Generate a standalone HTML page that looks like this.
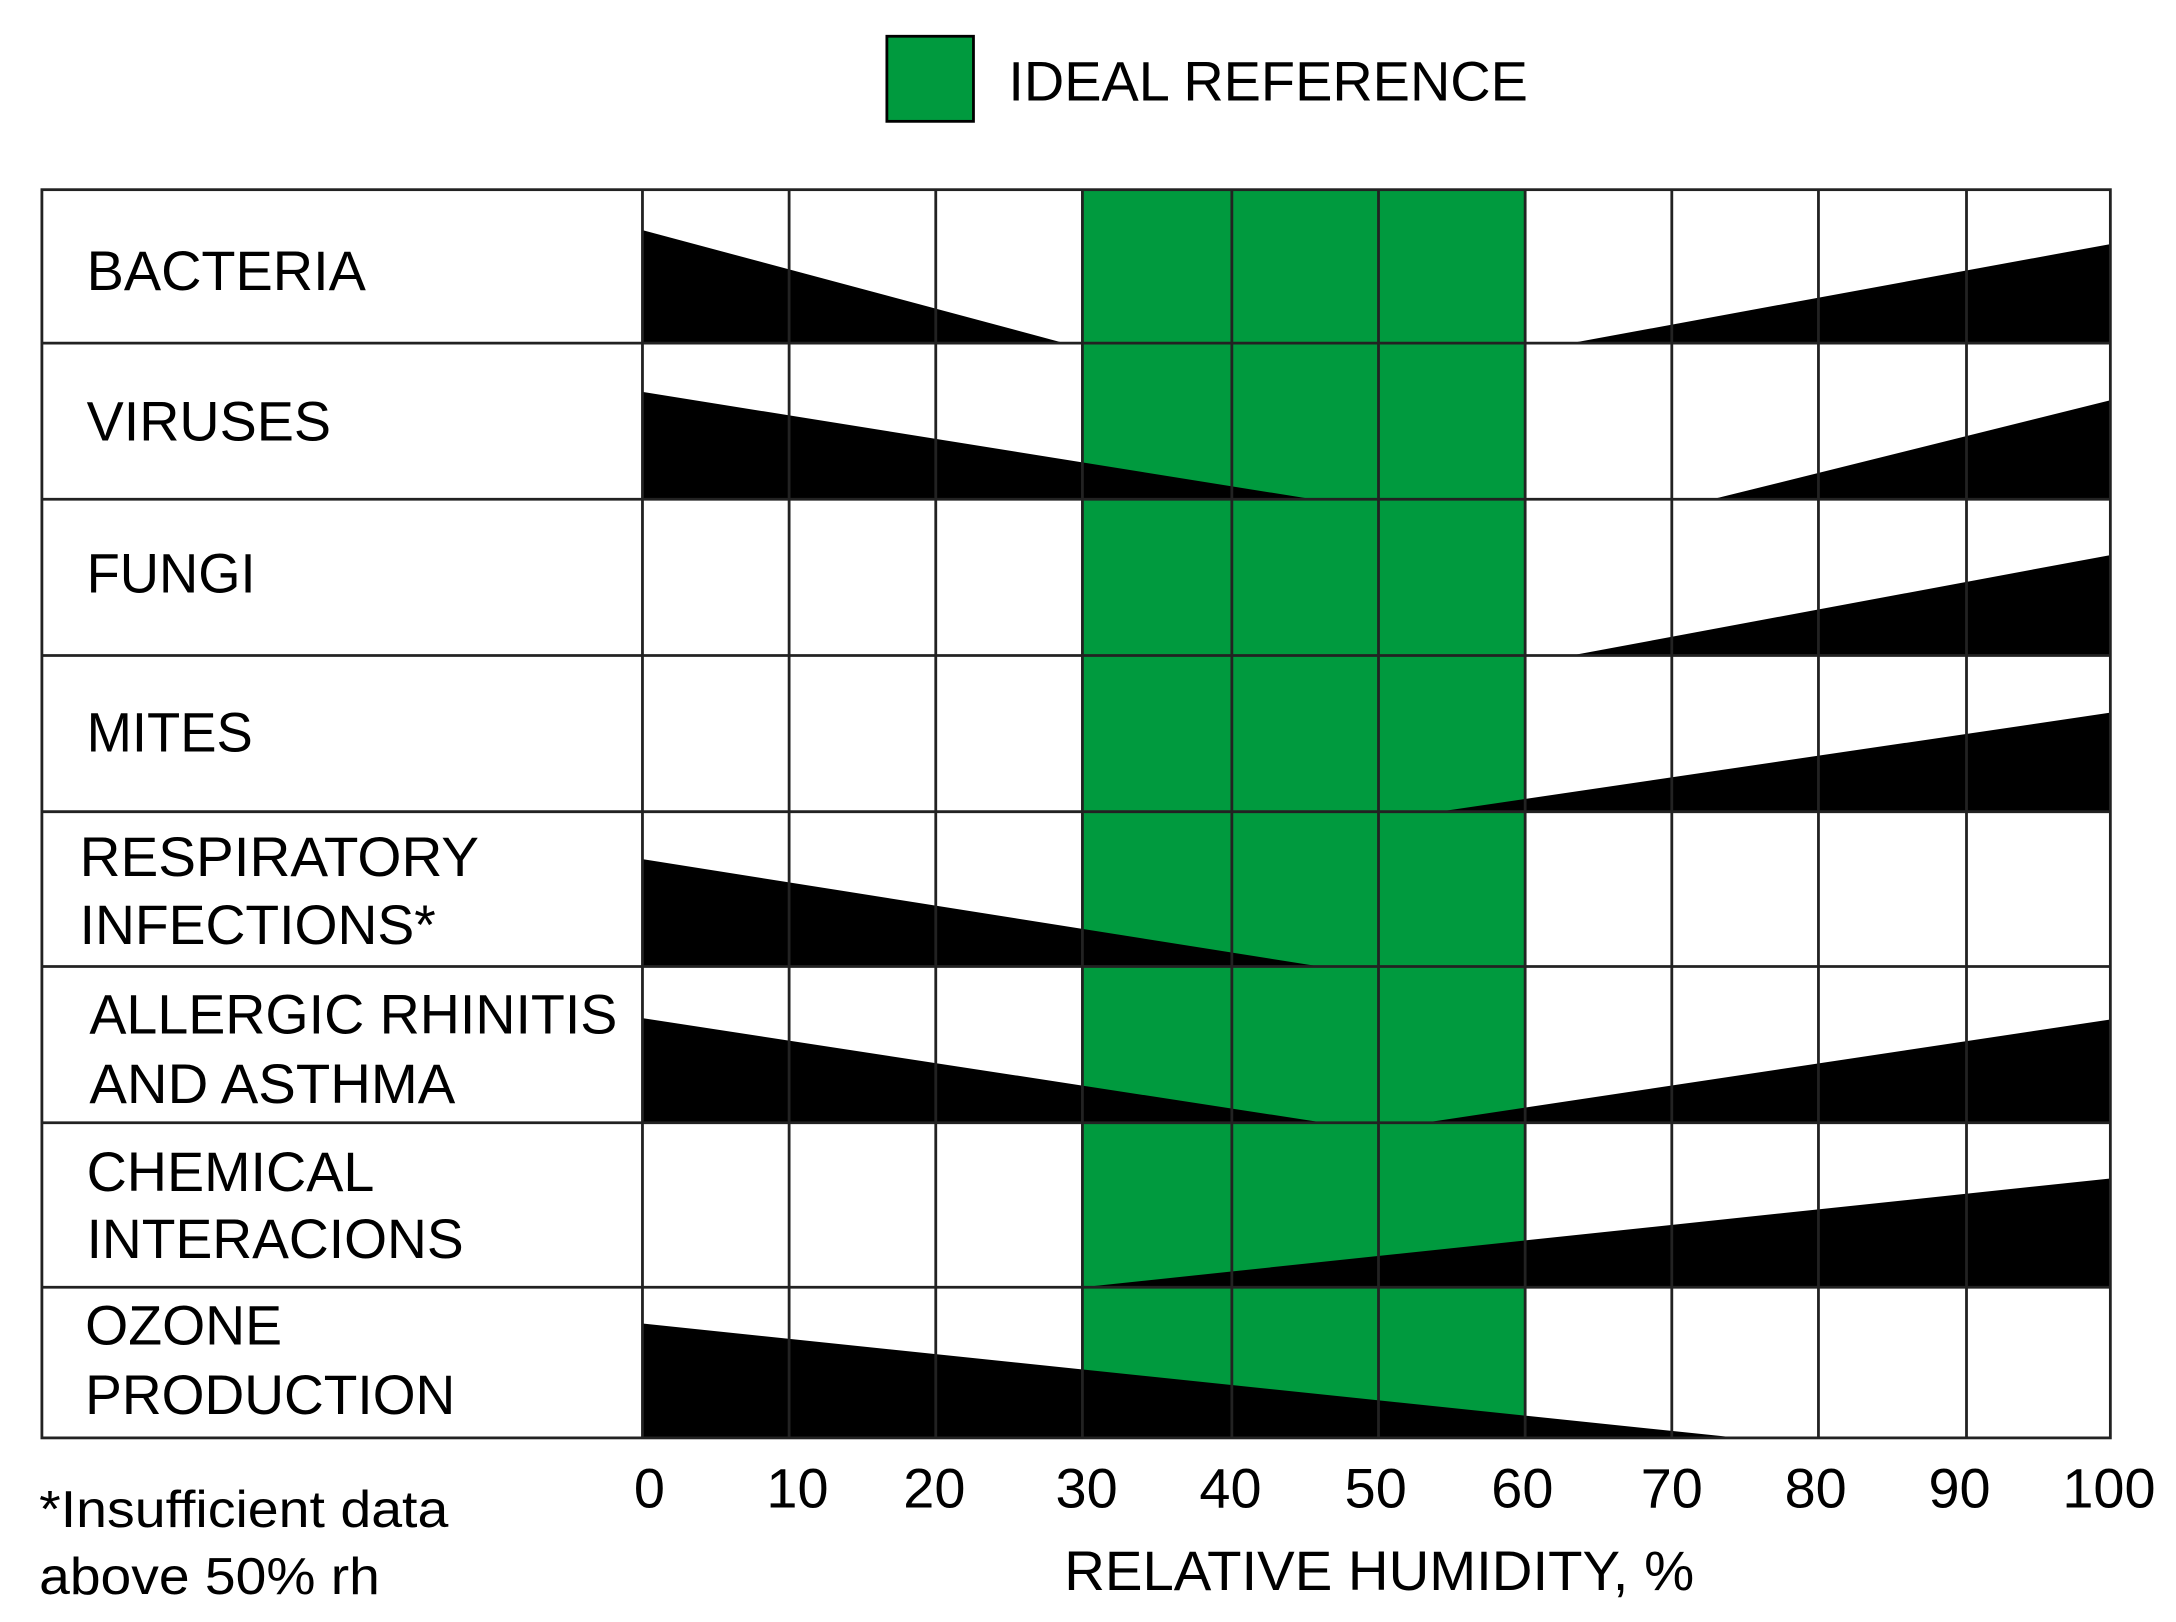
<!DOCTYPE html>
<html><head><style>html,body{margin:0;padding:0;background:#fff}svg{display:block}</style></head>
<body>
<svg width="2176" height="1622" viewBox="0 0 1558 1163" preserveAspectRatio="none" xmlns="http://www.w3.org/2000/svg" font-family="Liberation Sans, Arial, sans-serif" fill="#000">
<rect x="0" y="0" width="1558" height="1163" fill="#fff"/>
<rect x="635" y="26" width="62" height="61" fill="#009a3e" stroke="#000" stroke-width="2"/>
<text x="722" y="72" font-size="40" textLength="372" lengthAdjust="spacingAndGlyphs">IDEAL REFERENCE</text>
<rect x="775" y="136" width="317" height="895" fill="#009a3e"/>
<g fill="#000">
<polygon points="460,165 460,246 762,246"/>
<polygon points="1125,246 1511,175 1511,246"/>
<polygon points="460,281 460,358 940,358"/>
<polygon points="1226,358 1511,287 1511,358"/>
<polygon points="1125,470 1511,398 1511,470"/>
<polygon points="1030,582 1511,511 1511,582"/>
<polygon points="460,616 460,693 945,693"/>
<polygon points="460,730 460,805 948,805"/>
<polygon points="1020,805 1511,731 1511,805"/>
<polygon points="775,923 1511,845 1511,923"/>
<polygon points="460,949 460,1031 1245,1031"/>
</g>
<g stroke="#222" stroke-width="2" fill="none">
<rect x="30" y="136" width="1481" height="895"/>
<line x1="460" y1="136" x2="460" y2="1031"/>
<line x1="565" y1="136" x2="565" y2="1031"/>
<line x1="670" y1="136" x2="670" y2="1031"/>
<line x1="775" y1="136" x2="775" y2="1031"/>
<line x1="882" y1="136" x2="882" y2="1031"/>
<line x1="987" y1="136" x2="987" y2="1031"/>
<line x1="1092" y1="136" x2="1092" y2="1031"/>
<line x1="1197" y1="136" x2="1197" y2="1031"/>
<line x1="1302" y1="136" x2="1302" y2="1031"/>
<line x1="1408" y1="136" x2="1408" y2="1031"/>
<line x1="30" y1="246" x2="1511" y2="246"/>
<line x1="30" y1="358" x2="1511" y2="358"/>
<line x1="30" y1="470" x2="1511" y2="470"/>
<line x1="30" y1="582" x2="1511" y2="582"/>
<line x1="30" y1="693" x2="1511" y2="693"/>
<line x1="30" y1="805" x2="1511" y2="805"/>
<line x1="30" y1="923" x2="1511" y2="923"/>
</g>
<g font-size="40">
<text x="62" y="208" textLength="200" lengthAdjust="spacingAndGlyphs">BACTERIA</text>
<text x="62" y="316" textLength="175" lengthAdjust="spacingAndGlyphs">VIRUSES</text>
<text x="62" y="425" textLength="121" lengthAdjust="spacingAndGlyphs">FUNGI</text>
<text x="62" y="539" textLength="119" lengthAdjust="spacingAndGlyphs">MITES</text>
<text x="57" y="628" textLength="286" lengthAdjust="spacingAndGlyphs">RESPIRATORY</text>
<text x="57" y="677" textLength="255" lengthAdjust="spacingAndGlyphs">INFECTIONS*</text>
<text x="64" y="741" textLength="378" lengthAdjust="spacingAndGlyphs">ALLERGIC RHINITIS</text>
<text x="64" y="791" textLength="262" lengthAdjust="spacingAndGlyphs">AND ASTHMA</text>
<text x="62" y="854" textLength="206" lengthAdjust="spacingAndGlyphs">CHEMICAL</text>
<text x="62" y="902" textLength="270" lengthAdjust="spacingAndGlyphs">INTERACIONS</text>
<text x="61" y="964" textLength="141" lengthAdjust="spacingAndGlyphs">OZONE</text>
<text x="61" y="1014" textLength="265" lengthAdjust="spacingAndGlyphs">PRODUCTION</text>
</g>
<g font-size="40" text-anchor="middle">
<text x="465" y="1081">0</text>
<text x="571" y="1081">10</text>
<text x="669" y="1081">20</text>
<text x="778" y="1081">30</text>
<text x="881" y="1081">40</text>
<text x="985" y="1081">50</text>
<text x="1090" y="1081">60</text>
<text x="1197" y="1081">70</text>
<text x="1300" y="1081">80</text>
<text x="1403" y="1081">90</text>
<text x="1510" y="1081">100</text>
</g>
<text x="762" y="1140" font-size="40" textLength="451" lengthAdjust="spacingAndGlyphs">RELATIVE HUMIDITY, %</text>
<text x="28" y="1095" font-size="37" textLength="293" lengthAdjust="spacingAndGlyphs">*Insufficient data</text>
<text x="28" y="1143" font-size="37" textLength="244" lengthAdjust="spacingAndGlyphs">above 50% rh</text>
</svg>
</body></html>
